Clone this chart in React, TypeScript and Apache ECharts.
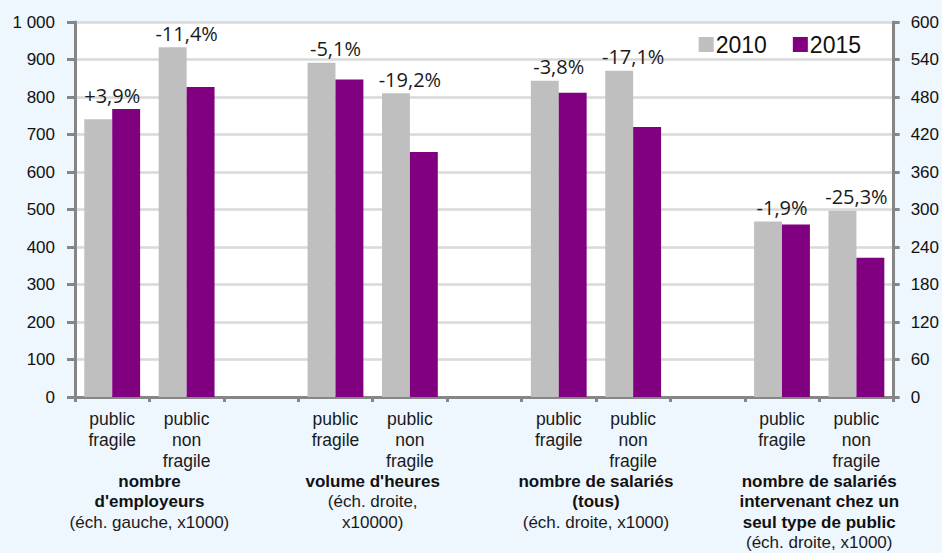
import React, { useEffect, useRef } from 'react';
import * as echarts from 'echarts';

// ---- data ----
const subCategories = ['public\nfragile', 'public\nnon\nfragile'];
const groupTitlesBold = [
  ['nombre', "d'employeurs"],
  ["volume d'heures"],
  ['nombre de salariés', '(tous)'],
  ['nombre de salariés', 'intervenant chez un', 'seul type de public'],
];
const groupTitlesNote = [
  ['(éch. gauche, x1000)'],
  ['(éch. droite,', 'x10000)'],
  ['(éch. droite, x1000)'],
  ['(éch. droite, x1000)'],
];
const groupAxis = [0, 1, 1, 1]; // 0 = left scale, 1 = right scale
// order: group0 PF, group0 PNF, group1 PF, group1 PNF, ...
const values2010 = [741, 933, 535, 486, 506, 522, 281, 298];
const values2015 = [768, 827, 508, 392, 487, 432, 276, 223];
const changeLabels = ['+3,9%', '-11,4%', '-5,1%', '-19,2%', '-3,8%', '-17,1%', '-1,9%', '-25,3%'];
const leftAxis = { min: 0, max: 1000, interval: 100 };
const rightAxis = { min: 0, max: 600, interval: 60 };
const seriesNames = ['2010', '2015'];

const GRAY = '#BFBFBF';
const PURPLE = '#800080';
const AXIS = '#868686';
const ARIAL = '"Liberation Sans", Arial, sans-serif';

function fmtThousands(v: number) {
  return String(v).replace(/\B(?=(\d{3})+(?!\d))/g, ' ');
}

export default function App() {
  const ref = useRef<HTMLDivElement>(null);

  useEffect(() => {
    if (!ref.current) return;
    const chart = echarts.init(ref.current, undefined, { renderer: 'svg' });

    const categories: string[] = [];
    const catIndex: number[] = [];
    groupTitlesBold.forEach((_, gi) => {
      subCategories.forEach((s) => {
        catIndex.push(categories.length);
        categories.push(s);
      });
      if (gi < groupTitlesBold.length - 1) categories.push('');
    });

    const makeBar = (vals: number[], axis: number) => {
      const arr: (number | null)[] = categories.map(() => null);
      vals.forEach((v, i) => {
        const g = Math.floor(i / 2);
        if (groupAxis[g] === axis) arr[catIndex[i]] = v;
      });
      return arr;
    };

    const labelData = (axis: number) => {
      const pts: number[][] = [];
      const txt: string[] = [];
      values2010.forEach((v, i) => {
        const g = Math.floor(i / 2);
        if (groupAxis[g] === axis) {
          pts.push([catIndex[i], Math.max(v, values2015[i])]);
          txt.push(changeLabels[i]);
        }
      });
      return { pts, txt };
    };

    const barSeries: any[] = [];
    [0, 1].forEach((axis) => {
      [values2010, values2015].forEach((vals, si) => {
        barSeries.push({
          type: 'bar',
          name: seriesNames[si],
          xAxisIndex: axis,
          yAxisIndex: axis,
          data: makeBar(vals, axis),
          barGap: '0%',
          barCategoryGap: '25%',
          itemStyle: { color: si === 0 ? GRAY : PURPLE },
        });
      });
    });

    const labelSeries: any[] = [0, 1].map((axis) => {
      const { pts, txt } = labelData(axis);
      return {
        type: 'custom',
        xAxisIndex: axis,
        yAxisIndex: axis,
        data: pts,
        encode: { x: 0, y: 1 },
        silent: true,
        renderItem: (params: any, api: any) => {
          const p = api.coord([api.value(0), api.value(1)]);
          return {
            type: 'text',
            x: p[0],
            y: p[1] - 4,
            style: {
              text: txt[params.dataIndex],
              align: 'center',
              verticalAlign: 'bottom',
              fontFamily: '"Open Sans", sans-serif',
              fontSize: 20,
              fill: '#1a1a1a',
            },
          };
        },
      };
    });

    const xAxisBase = {
      type: 'category',
      data: categories,
      position: 'bottom',
    };

    chart.setOption({
      animation: false,
      backgroundColor: '#EEF6FE',
      grid: {
        left: 75,
        right: 47,
        top: 22,
        bottom: 156,
        show: true,
        backgroundColor: '#FFFFFF',
        borderWidth: 0,
      },
      legend: {
        data: seriesNames,
        right: 76,
        top: 28,
        itemWidth: 15,
        itemHeight: 15,
        itemGap: 26,
        icon: 'rect',
        textStyle: { fontFamily: ARIAL, fontSize: 23, color: '#111', padding: [0, 0, 0, -3] },
      },
      xAxis: [
        {
          ...xAxisBase,
          axisLine: { show: true, lineStyle: { color: AXIS, width: 3 } },
          axisTick: { show: true, interval: 0, length: 5, lineStyle: { color: AXIS, width: 3 } },
          axisLabel: {
            interval: 0,
            margin: 11,
            fontFamily: ARIAL,
            fontSize: 17.5,
            lineHeight: 21,
            color: '#1a1a1a',
          },
        },
        { ...xAxisBase, show: false },
      ],
      yAxis: [
        {
          type: 'value',
          position: 'left',
          ...leftAxis,
          axisLine: { show: true, lineStyle: { color: AXIS, width: 3 } },
          axisTick: { show: true, length: 8, lineStyle: { color: AXIS, width: 3 } },
          axisLabel: {
            margin: 20,
            fontFamily: ARIAL,
            fontSize: 17,
            color: '#111',
            formatter: (v: number) => fmtThousands(v),
          },
          splitLine: { show: true, lineStyle: { color: '#D9D9D9', width: 2.5 } },
        },
        {
          type: 'value',
          position: 'right',
          ...rightAxis,
          axisLine: { show: true, lineStyle: { color: AXIS, width: 3 } },
          axisTick: { show: true, length: 6, lineStyle: { color: AXIS, width: 3 } },
          axisLabel: {
            margin: 17,
            fontFamily: ARIAL,
            fontSize: 17,
            color: '#111',
          },
          splitLine: { show: false },
        },
      ],
      series: [...barSeries, ...labelSeries],
    });

    // group titles under the axis, centered between the two categories of each group
    const y0 = chart.convertToPixel({ yAxisIndex: 0 }, 0) as number;
    const graphics = groupTitlesBold.map((bold, gi) => {
      const x1 = chart.convertToPixel({ xAxisIndex: 0 }, catIndex[gi * 2]) as number;
      const x2 = chart.convertToPixel({ xAxisIndex: 0 }, catIndex[gi * 2 + 1]) as number;
      const lines = [
        ...bold.map((l) => `{b|${l}}`),
        ...groupTitlesNote[gi].map((l) => `{n|${l}}`),
      ].join('\n');
      return {
        type: 'text',
        x: (x1 + x2) / 2,
        y: y0 + 74,
        silent: true,
        style: {
          text: lines,
          align: 'center',
          verticalAlign: 'top',
          rich: {
            b: { fontFamily: ARIAL, fontSize: 17, fontWeight: 'bold', lineHeight: 20.5, fill: '#111', align: 'center' },
            n: { fontFamily: ARIAL, fontSize: 17, lineHeight: 20.5, fill: '#1a1a1a', align: 'center' },
          },
        },
      };
    });
    chart.setOption({ graphic: graphics });

    return () => chart.dispose();
  }, []);

  return (
    <div
      ref={ref}
      style={{ position: 'fixed', left: 0, top: 0, width: 942, height: 553 }}
    />
  );
}
